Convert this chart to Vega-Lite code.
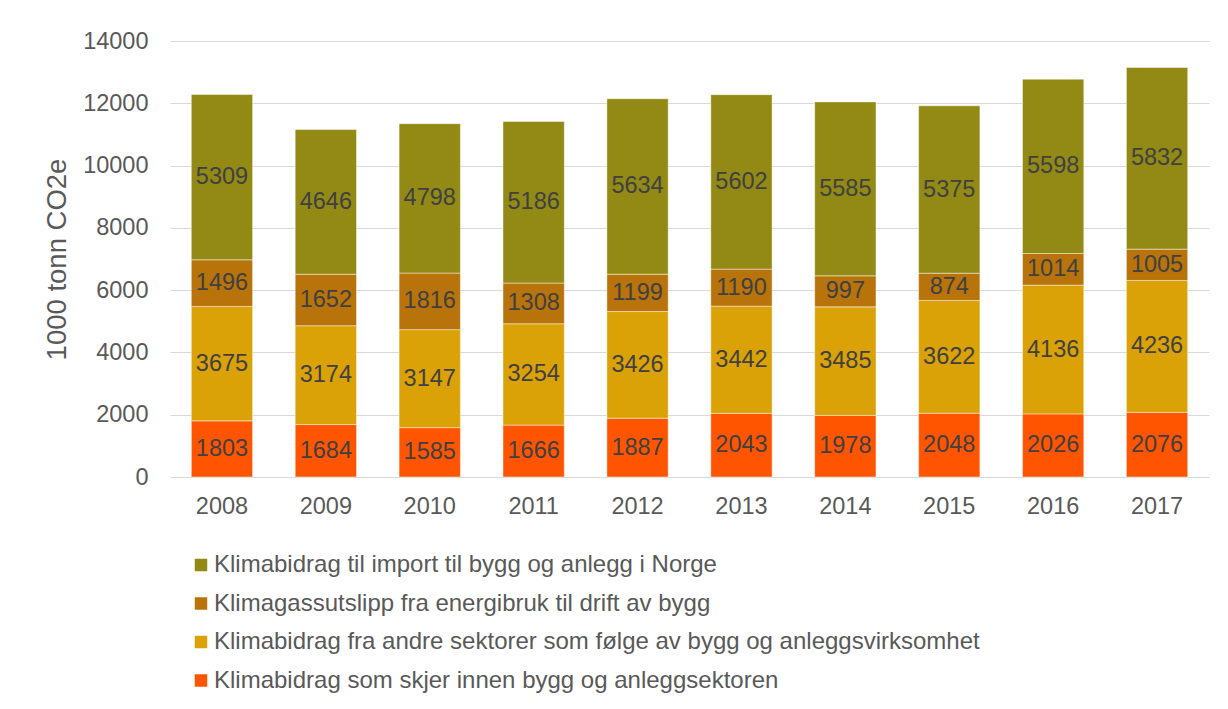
{
  "$schema": "https://vega.github.io/schema/vega-lite/v6.json",
  "width": 1039,
  "height": 436,
  "autosize": {"type": "none"},
  "padding": {"left": 170, "top": 41, "right": 19, "bottom": 232},
  "background": "#ffffff",
  "config": {
    "font": "Liberation Sans",
    "view": {"stroke": null}
  },
  "data": {
    "values": [
      {"year": "2008", "series": "Klimabidrag som skjer innen bygg og anleggsektoren", "k": 1, "value": 1803},
      {"year": "2009", "series": "Klimabidrag som skjer innen bygg og anleggsektoren", "k": 1, "value": 1684},
      {"year": "2010", "series": "Klimabidrag som skjer innen bygg og anleggsektoren", "k": 1, "value": 1585},
      {"year": "2011", "series": "Klimabidrag som skjer innen bygg og anleggsektoren", "k": 1, "value": 1666},
      {"year": "2012", "series": "Klimabidrag som skjer innen bygg og anleggsektoren", "k": 1, "value": 1887},
      {"year": "2013", "series": "Klimabidrag som skjer innen bygg og anleggsektoren", "k": 1, "value": 2043},
      {"year": "2014", "series": "Klimabidrag som skjer innen bygg og anleggsektoren", "k": 1, "value": 1978},
      {"year": "2015", "series": "Klimabidrag som skjer innen bygg og anleggsektoren", "k": 1, "value": 2048},
      {"year": "2016", "series": "Klimabidrag som skjer innen bygg og anleggsektoren", "k": 1, "value": 2026},
      {"year": "2017", "series": "Klimabidrag som skjer innen bygg og anleggsektoren", "k": 1, "value": 2076},
      {"year": "2008", "series": "Klimabidrag fra andre sektorer som følge av bygg og anleggsvirksomhet", "k": 2, "value": 3675},
      {"year": "2009", "series": "Klimabidrag fra andre sektorer som følge av bygg og anleggsvirksomhet", "k": 2, "value": 3174},
      {"year": "2010", "series": "Klimabidrag fra andre sektorer som følge av bygg og anleggsvirksomhet", "k": 2, "value": 3147},
      {"year": "2011", "series": "Klimabidrag fra andre sektorer som følge av bygg og anleggsvirksomhet", "k": 2, "value": 3254},
      {"year": "2012", "series": "Klimabidrag fra andre sektorer som følge av bygg og anleggsvirksomhet", "k": 2, "value": 3426},
      {"year": "2013", "series": "Klimabidrag fra andre sektorer som følge av bygg og anleggsvirksomhet", "k": 2, "value": 3442},
      {"year": "2014", "series": "Klimabidrag fra andre sektorer som følge av bygg og anleggsvirksomhet", "k": 2, "value": 3485},
      {"year": "2015", "series": "Klimabidrag fra andre sektorer som følge av bygg og anleggsvirksomhet", "k": 2, "value": 3622},
      {"year": "2016", "series": "Klimabidrag fra andre sektorer som følge av bygg og anleggsvirksomhet", "k": 2, "value": 4136},
      {"year": "2017", "series": "Klimabidrag fra andre sektorer som følge av bygg og anleggsvirksomhet", "k": 2, "value": 4236},
      {"year": "2008", "series": "Klimagassutslipp fra energibruk til drift av bygg", "k": 3, "value": 1496},
      {"year": "2009", "series": "Klimagassutslipp fra energibruk til drift av bygg", "k": 3, "value": 1652},
      {"year": "2010", "series": "Klimagassutslipp fra energibruk til drift av bygg", "k": 3, "value": 1816},
      {"year": "2011", "series": "Klimagassutslipp fra energibruk til drift av bygg", "k": 3, "value": 1308},
      {"year": "2012", "series": "Klimagassutslipp fra energibruk til drift av bygg", "k": 3, "value": 1199},
      {"year": "2013", "series": "Klimagassutslipp fra energibruk til drift av bygg", "k": 3, "value": 1190},
      {"year": "2014", "series": "Klimagassutslipp fra energibruk til drift av bygg", "k": 3, "value": 997},
      {"year": "2015", "series": "Klimagassutslipp fra energibruk til drift av bygg", "k": 3, "value": 874},
      {"year": "2016", "series": "Klimagassutslipp fra energibruk til drift av bygg", "k": 3, "value": 1014},
      {"year": "2017", "series": "Klimagassutslipp fra energibruk til drift av bygg", "k": 3, "value": 1005},
      {"year": "2008", "series": "Klimabidrag til import til bygg og anlegg i Norge", "k": 4, "value": 5309},
      {"year": "2009", "series": "Klimabidrag til import til bygg og anlegg i Norge", "k": 4, "value": 4646},
      {"year": "2010", "series": "Klimabidrag til import til bygg og anlegg i Norge", "k": 4, "value": 4798},
      {"year": "2011", "series": "Klimabidrag til import til bygg og anlegg i Norge", "k": 4, "value": 5186},
      {"year": "2012", "series": "Klimabidrag til import til bygg og anlegg i Norge", "k": 4, "value": 5634},
      {"year": "2013", "series": "Klimabidrag til import til bygg og anlegg i Norge", "k": 4, "value": 5602},
      {"year": "2014", "series": "Klimabidrag til import til bygg og anlegg i Norge", "k": 4, "value": 5585},
      {"year": "2015", "series": "Klimabidrag til import til bygg og anlegg i Norge", "k": 4, "value": 5375},
      {"year": "2016", "series": "Klimabidrag til import til bygg og anlegg i Norge", "k": 4, "value": 5598},
      {"year": "2017", "series": "Klimabidrag til import til bygg og anlegg i Norge", "k": 4, "value": 5832}
    ]
  },
  "transform": [
    {"stack": "value", "groupby": ["year"], "sort": [{"field": "k", "order": "ascending"}], "as": ["y0", "y1"]},
    {"calculate": "(datum.y0 + datum.y1) / 2", "as": "ymid"}
  ],
  "encoding": {
    "x": {
      "field": "year",
      "type": "nominal",
      "scale": {"paddingInner": 0.41, "paddingOuter": 0.205},
      "axis": {
        "title": null,
        "labelAngle": 0,
        "labelFontSize": 23.5,
        "labelColor": "#595959",
        "labelPadding": 17,
        "ticks": false,
        "domain": false
      }
    }
  },
  "layer": [
    {
      "mark": {"type": "bar", "stroke": "#ffffff", "strokeWidth": 0.75, "strokeOpacity": 0.6},
      "encoding": {
        "y": {
          "field": "y0",
          "type": "quantitative",
          "scale": {"domain": [0, 14000], "nice": false, "zero": true},
          "axis": {
            "title": "1000 tonn CO2e",
            "titleFontSize": 27.5,
            "titleFontWeight": "normal",
            "titleColor": "#595959",
            "titlePadding": 11,
            "values": [0, 2000, 4000, 6000, 8000, 10000, 12000, 14000],
            "format": "d",
            "labelFontSize": 23.5,
            "labelColor": "#595959",
            "labelPadding": 22,
            "ticks": false,
            "domain": false,
            "gridColor": "#D9D9D9",
            "gridWidth": 1
          }
        },
        "y2": {"field": "y1"},
        "color": {
          "field": "series",
          "type": "nominal",
          "scale": {
            "domain": [
              "Klimabidrag til import til bygg og anlegg i Norge",
              "Klimagassutslipp fra energibruk til drift av bygg",
              "Klimabidrag fra andre sektorer som følge av bygg og anleggsvirksomhet",
              "Klimabidrag som skjer innen bygg og anleggsektoren"
            ],
            "range": ["#928A15", "#B8730A", "#DAA207", "#FF5500"]
          },
          "legend": {
            "title": null,
            "orient": "none",
            "legendX": 19,
            "legendY": 512,
            "direction": "vertical",
            "symbolType": "square",
            "symbolSize": 156,
            "symbolStrokeWidth": 0,
            "labelFontSize": 24,
            "labelColor": "#595959",
            "labelOffset": 1,
            "rowPadding": 14.5,
            "labelLimit": 1000
          }
        }
      }
    },
    {
      "mark": {"type": "text", "fontSize": 23.5, "color": "#404040", "baseline": "middle", "align": "center"},
      "encoding": {
        "y": {"field": "ymid", "type": "quantitative"},
        "text": {"field": "value", "type": "quantitative", "format": "d"}
      }
    }
  ]
}
